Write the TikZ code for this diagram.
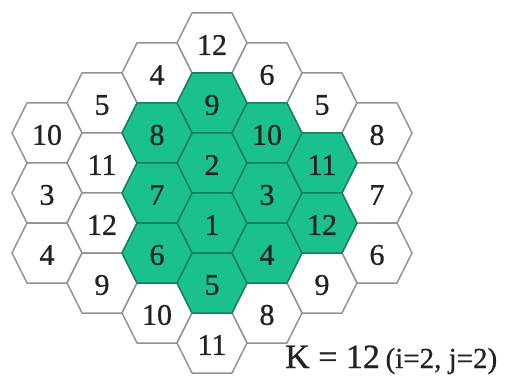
\documentclass[tikz,border=0pt]{standalone}
\usepackage{fontspec}
\setmainfont{Liberation Serif}[FakeBold=0.8]
\definecolor{hexgreen}{RGB}{26,192,142}
\definecolor{hexgreenline}{RGB}{22,125,94}
\definecolor{hexgray}{RGB}{145,145,145}
\definecolor{numcol}{RGB}{35,35,35}
\begin{document}
\begin{tikzpicture}[x=1pt,y=-1pt,
  hexw/.style={draw=hexgray, line width=1.5pt, fill=white, line join=round},
  hexg/.style={draw=hexgreenline, line width=1.5pt, fill=hexgreen, line join=round},
  num/.style={inner sep=0pt, text=numcol, font=\fontsize{30}{30}\selectfont}]
\useasboundingbox (0,0) rectangle (509,377);
% white cells
\foreach \x/\y/\t/\n in {212/43/12/a12, 157/73/4/b4, 267/73/6/d6, 102/103/5/c5,
  322/103/5/e5, 47/133/10/f10, 377/133/8/g8, 102/163/11/c11, 47/193/3/f3,
  377/193/7/g7, 102/223/12/c12, 47/253/4/f4, 377/253/6/g6, 102/283/9/c9,
  322/283/9/e9, 157/313/10/b10, 267/313/8/d8, 212/343/11/a11} {
  \path[hexw] (\x,\y) +(-35,0) -- +(-20,-30) -- +(20,-30) -- +(35,0) -- +(20,30) -- +(-20,30) -- cycle;
}
% green cells
\foreach \x/\y/\t/\n in {212/103/9/a9, 212/163/2/a2, 212/223/1/a1, 212/283/5/a5,
  157/133/8/b8, 157/193/7/b7, 157/253/6/b6, 267/133/10/d10, 267/193/3/d3,
  267/253/4/d4, 322/163/11/e11, 322/223/12/e12} {
  \path[hexg] (\x,\y) +(-35,0) -- +(-20,-30) -- +(20,-30) -- +(35,0) -- +(20,30) -- +(-20,30) -- cycle;
}
% labels
\foreach \x/\y/\t/\n in {212/43/12/a12, 157/73/4/b4, 267/73/6/d6, 102/103/5/c5,
  322/103/5/e5, 47/133/10/f10, 377/133/8/g8, 102/163/11/c11, 47/193/3/f3,
  377/193/7/g7, 102/223/12/c12, 47/253/4/f4, 377/253/6/g6, 102/283/9/c9,
  322/283/9/e9, 157/313/10/b10, 267/313/8/d8, 212/343/11/a11,
  212/103/9/a9, 212/163/2/a2, 212/223/1/a1, 212/283/5/a5,
  157/133/8/b8, 157/193/7/b7, 157/253/6/b6, 267/133/10/d10, 267/193/3/d3,
  267/253/4/d4, 322/163/11/e11, 322/223/12/e12} {
  \node[num] (\n) at (\x,\y+2) {\t};
}
\node[anchor=base west, inner sep=0pt, text=numcol] (klabel) at (285,368)
  {\fontsize{34}{34}\selectfont K = 12\,\fontsize{29}{29}\selectfont (i=2, j=2)};
\end{tikzpicture}
\end{document}
